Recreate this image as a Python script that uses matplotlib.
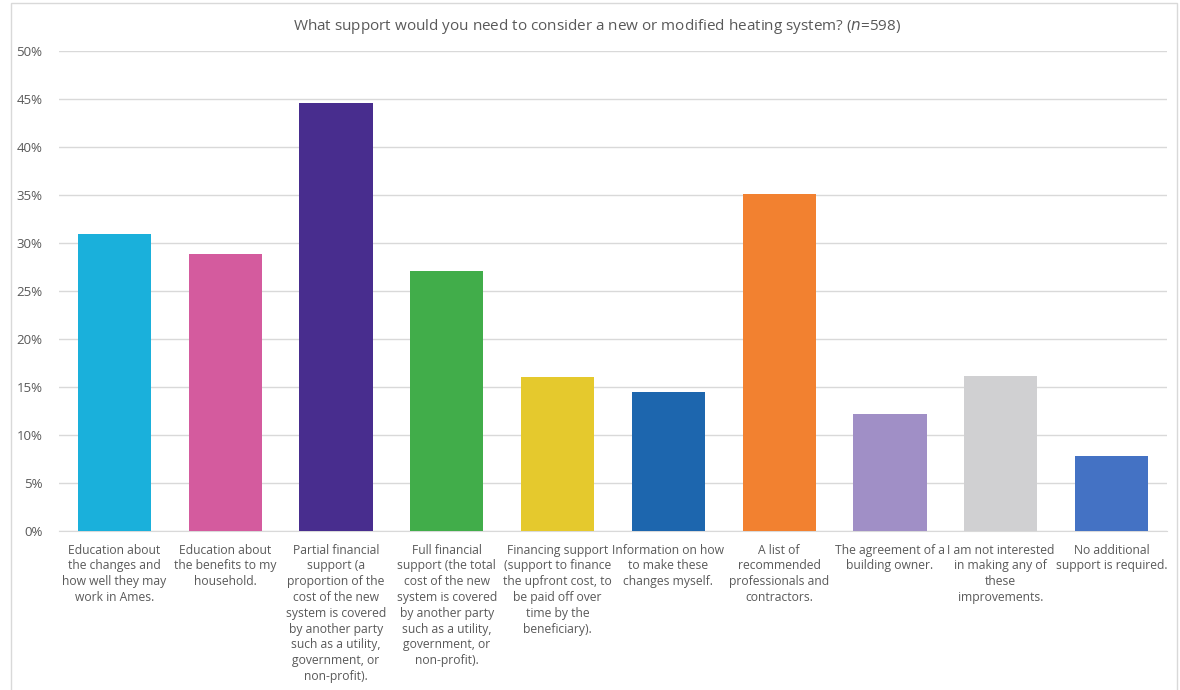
import matplotlib.pyplot as plt
from matplotlib.patches import Rectangle
from matplotlib.ticker import FuncFormatter

plt.rcParams['font.family'] = ['Open Sans', 'DejaVu Sans']

# Survey answers and share of respondents (%)
categories = [
    "Education about\nthe changes and\nhow well they may\nwork in Ames.",
    "Education about\nthe benefits to my\nhousehold.",
    "Partial financial\nsupport (a\nproportion of the\ncost of the new\nsystem is covered\nby another party\nsuch as a utility,\ngovernment, or\nnon-profit).",
    "Full financial\nsupport (the total\ncost of the new\nsystem is covered\nby another party\nsuch as a utility,\ngovernment, or\nnon-profit).",
    "Financing support\n(support to finance\nthe upfront cost, to\nbe paid off over\ntime by the\nbeneficiary).",
    "Information on how\nto make these\nchanges myself.",
    "A list of\nrecommended\nprofessionals and\ncontractors.",
    "The agreement of a\nbuilding owner.",
    "I am not interested\nin making any of\nthese\nimprovements.",
    "No additional\nsupport is required.",
]
shares = [30.9, 28.9, 44.6, 27.1, 16.0, 14.5, 35.1, 12.2, 16.2, 7.8]
colors = ['#1AB0DB', '#D45B9E', '#482D8E', '#41AD4A', '#E5C92D',
          '#1D66AE', '#F28130', '#A08FC6', '#D0D0D2', '#4472C4']

text_color = '#595959'

fig = plt.figure(figsize=(11.8, 6.9), dpi=100)
ax = fig.add_axes([0.05, 0.2304, 0.939, 0.6956])

x = range(len(categories))
ax.bar(x, shares, width=0.66, color=colors, zorder=3)

ax.set_xlim(-0.5, len(categories) - 0.5)
ax.set_ylim(0, 50)
ax.set_yticks(range(0, 51, 5))
ax.yaxis.set_major_formatter(FuncFormatter(lambda v, _: f"{v:.0f}%"))
ax.grid(axis='y', color='#D9D9D9', linewidth=1, zorder=0)

ax.set_xticks(list(x))
ax.set_xticklabels(categories, fontsize=8.7, color=text_color, linespacing=1.28, va='top')
ax.tick_params(axis='x', length=0, pad=9)
ax.tick_params(axis='y', length=0, pad=12, labelsize=9.5, labelcolor=text_color)

for side in ['top', 'right', 'left']:
    ax.spines[side].set_visible(False)
ax.spines['bottom'].set_color('#D9D9D9')

# title with italic n
fig.text(0.506, 0.961, "What support would you need to consider a new or modified heating system? ($\\it{n}$=598)",
         ha='center', va='center', fontsize=11, color=text_color)

# outer chart frame
fig.patches.append(Rectangle((11 / 1180, -0.05), 1166 / 1180, 1.05 - 3 / 690,
                             transform=fig.transFigure, fill=False,
                             edgecolor='#D9D9D9', linewidth=1))

fig.savefig('out.png', dpi=100)
